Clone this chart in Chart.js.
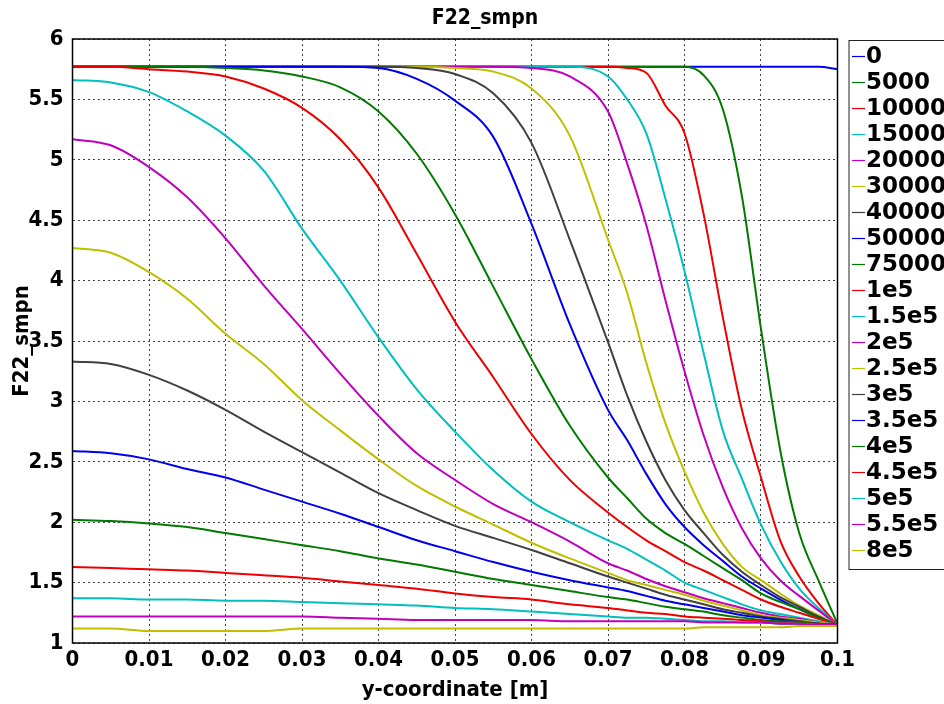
<!DOCTYPE html>
<html>
<head>
<meta charset="utf-8">
<title>F22_smpn</title>
<script src="https://cdn.jsdelivr.net/npm/chart.js@4.4.0/dist/chart.umd.min.js"></script>
<style>
    html, body { margin: 0; padding: 0; background: #fff; }
    #chart { display: block; }
</style>
</head>
<body>
<canvas id="chart" width="944" height="704"></canvas>
<script>
// ── Dados ─────────────────────────────────────────────────────────────────

// posições y-coordinate [m] (mais densas perto da parede)
const X = [0, 0.005, 0.01, 0.015, 0.02, 0.025, 0.03, 0.035, 0.04, 0.045, 0.05, 0.055, 0.06, 0.065, 0.07,
           0.0725, 0.075, 0.0775, 0.08, 0.0825, 0.085, 0.0875, 0.09, 0.0925, 0.095, 0.0975, 0.1];

const LABELS = ["0", "5000", "10000", "15000", "20000", "30000", "40000", "50000", "75000", "1e5",
                "1.5e5", "2e5", "2.5e5", "3e5", "3.5e5", "4e5", "4.5e5", "5e5", "5.5e5", "8e5"];

const S_0      = [5.77, 5.77, 5.77, 5.77, 5.77, 5.77, 5.77, 5.77, 5.77, 5.77, 5.77, 5.77, 5.77, 5.77, 5.77, 5.77, 5.77, 5.77, 5.77, 5.77, 5.77, 5.77, 5.77, 5.77, 5.77, 5.77, 5.75];
const S_5000   = [5.77, 5.77, 5.77, 5.77, 5.77, 5.77, 5.77, 5.77, 5.77, 5.77, 5.77, 5.77, 5.77, 5.77, 5.77, 5.77, 5.77, 5.77, 5.77, 5.70, 5.42, 4.70, 3.60, 2.60, 1.91, 1.52, 1.16];
const S_10000  = [5.77, 5.77, 5.77, 5.77, 5.77, 5.77, 5.77, 5.77, 5.77, 5.77, 5.77, 5.77, 5.77, 5.77, 5.77, 5.76, 5.72, 5.45, 5.22, 4.55, 3.70, 2.93, 2.37, 1.85, 1.55, 1.33, 1.15];
const S_15000  = [5.77, 5.77, 5.77, 5.77, 5.77, 5.77, 5.77, 5.77, 5.77, 5.77, 5.77, 5.77, 5.77, 5.77, 5.69, 5.50, 5.22, 4.68, 4.08, 3.40, 2.76, 2.36, 1.98, 1.68, 1.45, 1.29, 1.15];
const S_20000  = [5.77, 5.77, 5.77, 5.77, 5.77, 5.77, 5.77, 5.77, 5.77, 5.77, 5.77, 5.77, 5.76, 5.69, 5.40, 4.97, 4.46, 3.84, 3.25, 2.72, 2.29, 1.95, 1.70, 1.52, 1.39, 1.27, 1.15];
const S_30000  = [5.77, 5.77, 5.77, 5.77, 5.77, 5.77, 5.77, 5.77, 5.77, 5.77, 5.76, 5.73, 5.59, 5.20, 4.34, 3.90, 3.32, 2.82, 2.42, 2.08, 1.82, 1.63, 1.52, 1.41, 1.31, 1.23, 1.15];
const S_40000  = [5.77, 5.77, 5.77, 5.77, 5.77, 5.77, 5.77, 5.77, 5.77, 5.76, 5.71, 5.55, 5.14, 4.34, 3.49, 3.05, 2.67, 2.35, 2.10, 1.91, 1.73, 1.59, 1.48, 1.38, 1.30, 1.22, 1.15];
const S_50000  = [5.77, 5.77, 5.77, 5.77, 5.77, 5.77, 5.77, 5.77, 5.76, 5.67, 5.49, 5.19, 4.47, 3.64, 2.93, 2.68, 2.40, 2.15, 1.96, 1.81, 1.68, 1.55, 1.45, 1.36, 1.28, 1.21, 1.15];
const S_75000  = [5.77, 5.77, 5.77, 5.77, 5.76, 5.74, 5.69, 5.60, 5.40, 5.05, 4.55, 3.95, 3.35, 2.80, 2.37, 2.20, 2.03, 1.91, 1.82, 1.72, 1.62, 1.52, 1.41, 1.34, 1.28, 1.21, 1.15];
const S_1e5    = [5.77, 5.77, 5.75, 5.73, 5.69, 5.59, 5.43, 5.17, 4.77, 4.22, 3.66, 3.20, 2.73, 2.35, 2.08, 1.96, 1.85, 1.76, 1.67, 1.60, 1.52, 1.44, 1.36, 1.30, 1.25, 1.20, 1.15];
const S_1_5e5  = [5.66, 5.64, 5.56, 5.40, 5.20, 4.91, 4.43, 4.00, 3.53, 3.10, 2.75, 2.43, 2.17, 2.00, 1.85, 1.78, 1.69, 1.60, 1.50, 1.44, 1.38, 1.32, 1.27, 1.24, 1.21, 1.18, 1.15];
const S_2e5    = [5.17, 5.12, 4.94, 4.69, 4.35, 3.96, 3.60, 3.23, 2.88, 2.57, 2.35, 2.15, 2.00, 1.84, 1.66, 1.60, 1.53, 1.47, 1.42, 1.37, 1.33, 1.29, 1.25, 1.22, 1.20, 1.17, 1.15];
const S_2_5e5  = [4.27, 4.23, 4.07, 3.85, 3.56, 3.31, 3.01, 2.76, 2.52, 2.30, 2.13, 1.98, 1.83, 1.70, 1.58, 1.52, 1.48, 1.44, 1.40, 1.35, 1.31, 1.27, 1.23, 1.21, 1.19, 1.17, 1.15];
const S_3e5    = [3.33, 3.31, 3.22, 3.09, 2.93, 2.75, 2.58, 2.41, 2.24, 2.10, 1.97, 1.87, 1.77, 1.66, 1.55, 1.50, 1.45, 1.40, 1.36, 1.32, 1.28, 1.25, 1.22, 1.20, 1.18, 1.16, 1.15];
const S_3_5e5  = [2.59, 2.57, 2.52, 2.44, 2.37, 2.27, 2.17, 2.07, 1.96, 1.85, 1.76, 1.67, 1.59, 1.52, 1.46, 1.43, 1.39, 1.35, 1.32, 1.29, 1.26, 1.23, 1.21, 1.19, 1.17, 1.16, 1.15];
const S_4e5    = [2.02, 2.01, 1.99, 1.96, 1.91, 1.86, 1.81, 1.76, 1.70, 1.65, 1.59, 1.53, 1.48, 1.43, 1.38, 1.36, 1.33, 1.30, 1.28, 1.26, 1.23, 1.21, 1.19, 1.18, 1.17, 1.16, 1.15];
const S_4_5e5  = [1.63, 1.62, 1.61, 1.60, 1.58, 1.56, 1.54, 1.51, 1.48, 1.45, 1.41, 1.38, 1.36, 1.32, 1.29, 1.27, 1.25, 1.24, 1.22, 1.21, 1.20, 1.19, 1.18, 1.17, 1.16, 1.16, 1.15];
const S_5e5    = [1.37, 1.37, 1.36, 1.36, 1.35, 1.35, 1.34, 1.33, 1.32, 1.31, 1.29, 1.28, 1.26, 1.24, 1.22, 1.21, 1.21, 1.20, 1.19, 1.18, 1.18, 1.17, 1.17, 1.16, 1.16, 1.15, 1.15];
const S_5_5e5  = [1.22, 1.22, 1.22, 1.22, 1.22, 1.22, 1.22, 1.21, 1.20, 1.19, 1.19, 1.19, 1.19, 1.18, 1.18, 1.18, 1.18, 1.18, 1.18, 1.17, 1.17, 1.17, 1.17, 1.16, 1.16, 1.15, 1.15];
const S_8e5    = [1.12, 1.12, 1.10, 1.10, 1.10, 1.10, 1.12, 1.12, 1.12, 1.12, 1.12, 1.12, 1.12, 1.12, 1.12, 1.12, 1.12, 1.12, 1.12, 1.13, 1.13, 1.13, 1.13, 1.13, 1.14, 1.14, 1.14];

const SERIES = [S_0, S_5000, S_10000, S_15000, S_20000, S_30000, S_40000, S_50000, S_75000, S_1e5,
                S_1_5e5, S_2e5, S_2_5e5, S_3e5, S_3_5e5, S_4e5, S_4_5e5, S_5e5, S_5_5e5, S_8e5];

const X_TICKS = [0, 0.01, 0.02, 0.03, 0.04, 0.05, 0.06, 0.07, 0.08, 0.09, 0.1];
const TITLE   = "F22_smpn";

// ── Estilo ────────────────────────────────────────────────────────────────

const PALETTE = ["#0000ee", "#007a00", "#ee0000", "#00bfbf", "#bf00bf", "#bfbf00", "#404040"];
const FAMILY  = '"DejaVu Sans", Verdana, sans-serif';
// "bold condensed" entra no shorthand de fonte do canvas (font-stretch)
const NARROW_WEIGHT = "bold condensed";

// moldura completa + título da figura
const framePlugin = {
    id: "frame",
    afterDraw(chart) {
        const { ctx, chartArea: a } = chart;
        ctx.save();
        ctx.strokeStyle = "#000";
        ctx.lineWidth = 1.5;
        ctx.strokeRect(a.left, a.top, a.right - a.left, a.bottom - a.top);

        ctx.fillStyle = "#000";
        ctx.font = NARROW_WEIGHT + " 21px " + FAMILY;
        ctx.textAlign = "center";
        ctx.textBaseline = "middle";
        ctx.fillText(TITLE, 485, 19);
        ctx.restore();
    }
};

// legenda em caixa à direita (cortada pela borda da figura, como no original)
const boxLegend = {
    id: "boxLegend",
    afterDraw(chart) {
        const { ctx, chartArea: a } = chart;
        const sets = chart.data.datasets;
        const left = a.right + 11.5;
        const top  = 40.5;
        const row  = 26;

        ctx.save();
        ctx.strokeStyle = "#222";
        ctx.lineWidth = 1;
        ctx.strokeRect(left, top, 120, row * sets.length + 9);

        ctx.font = "bold 23px " + FAMILY;
        ctx.textBaseline = "middle";
        ctx.fillStyle = "#000";
        sets.forEach((ds, i) => {
            const y = top + 16 + i * row;
            ctx.strokeStyle = ds.borderColor;
            ctx.lineWidth = 1.2;
            ctx.beginPath();
            ctx.moveTo(left + 3, y);
            ctx.lineTo(left + 16, y);
            ctx.stroke();
            ctx.fillText(ds.label, left + 17, y + 1);
        });
        ctx.restore();
    }
};

// ── Chart ─────────────────────────────────────────────────────────────────

const datasets = SERIES.map((s, i) => ({
    label: LABELS[i],
    data: X.map((x, j) => ({ x, y: s[j] })),
    borderColor: PALETTE[i % PALETTE.length],
    borderWidth: 2,
    pointRadius: 0,
    cubicInterpolationMode: "monotone",
    fill: false,
    order: SERIES.length - i
}));

const tickFont  = { family: FAMILY, size: 22, weight: NARROW_WEIGHT };
const titleFont = { family: FAMILY, size: 22, weight: NARROW_WEIGHT, lineHeight: 1.2 };
const grid = { color: "#444", lineWidth: 1, drawTicks: false };

new Chart(document.getElementById("chart"), {
    type: "line",
    data: { datasets },
    options: {
        responsive: false,
        animation: false,
        devicePixelRatio: 1,
        layout: { padding: { left: 0, right: 106.5, top: 39, bottom: 0 } },
        plugins: {
            legend: { display: false },
            tooltip: { enabled: false },
            title: { display: false }
        },
        scales: {
            x: {
                type: "linear",
                min: 0,
                max: 0.1,
                afterBuildTicks: scale => { scale.ticks = X_TICKS.map(v => ({ value: v })); },
                afterFit: scale => { scale.height = 61; },
                grid,
                border: { display: false, dash: [2, 3] },
                ticks: {
                    color: "#000",
                    font: tickFont,
                    padding: 4,
                    maxRotation: 0,
                    callback: v => String(+v.toFixed(2))
                },
                title: {
                    display: true,
                    text: "y-coordinate [m]",
                    color: "#000",
                    font: titleFont,
                    padding: { top: 0, bottom: 1 }
                }
            },
            y: {
                min: 1,
                max: 6,
                afterFit: scale => { scale.width = 72.5; },
                grid,
                border: { display: false, dash: [2, 3] },
                ticks: {
                    stepSize: 0.5,
                    color: "#000",
                    font: tickFont,
                    padding: 9,
                    callback: v => String(v)
                },
                title: {
                    display: true,
                    text: TITLE,
                    color: "#000",
                    font: titleFont,
                    padding: { top: 9, bottom: 0 }
                }
            }
        }
    },
    plugins: [framePlugin, boxLegend]
});
</script>
</body>
</html>
